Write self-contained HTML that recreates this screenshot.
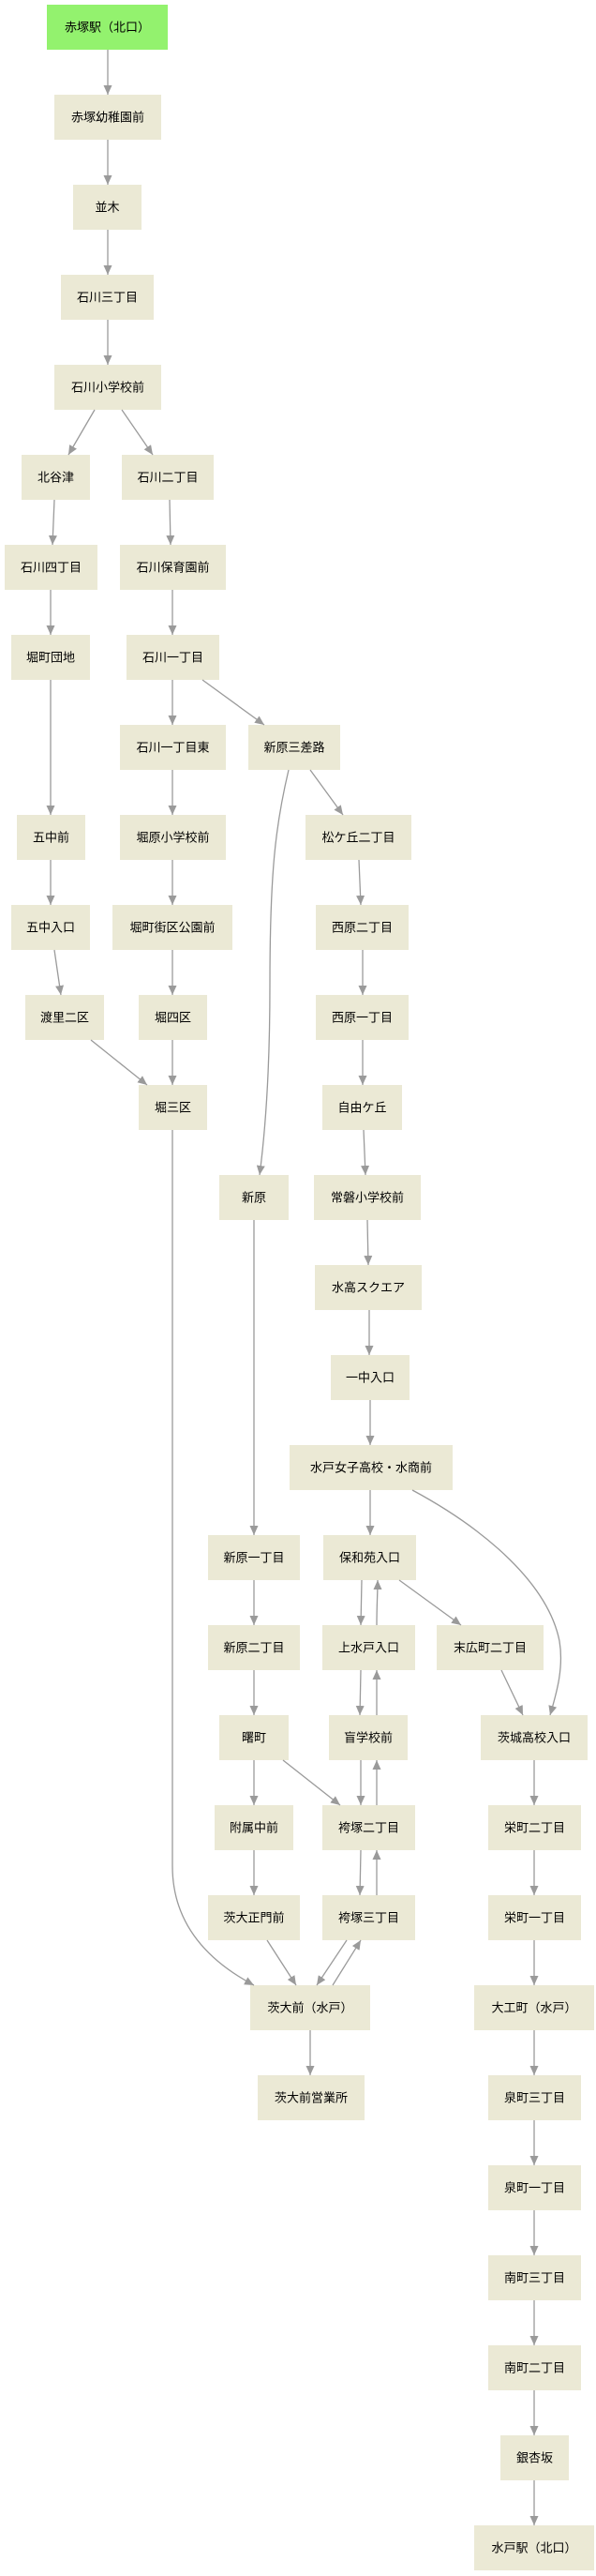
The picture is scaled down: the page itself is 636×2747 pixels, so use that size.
<!DOCTYPE html>
<html><head><meta charset="utf-8"><style>
html,body{margin:0;padding:0;background:#fff;}
svg{display:block;}
text{font-family:"Liberation Sans","Noto Sans CJK JP",sans-serif;font-size:13px;fill:#000;text-anchor:middle;dominant-baseline:central;}
.n{fill:#ebe9d5;}
.e{fill:none;stroke:#9a9a9a;stroke-width:1.3;marker-end:url(#a);}
</style></head><body>
<svg width="636" height="2747" viewBox="0 0 636 2747" xmlns="http://www.w3.org/2000/svg">
<defs><marker id="a" markerUnits="userSpaceOnUse" markerWidth="10" markerHeight="9" refX="10" refY="4.5" orient="auto"><path d="M0,0 L10,4.5 L0,9 z" fill="#9a9a9a"/></marker></defs>
<g>
<rect x="50" y="5" width="129" height="48" fill="#93f26e"/><text x="114.5" y="29">赤塚駅（北口）</text>
<rect class="n" x="58" y="101" width="114" height="48"/><text x="115" y="125">赤塚幼稚園前</text>
<rect class="n" x="78" y="197" width="73" height="48"/><text x="114.5" y="221">並木</text>
<rect class="n" x="65" y="293" width="99" height="48"/><text x="114.5" y="317">石川三丁目</text>
<rect class="n" x="58" y="389" width="114" height="48"/><text x="115" y="413">石川小学校前</text>
<rect class="n" x="23" y="485" width="73" height="48"/><text x="59.5" y="509">北谷津</text>
<rect class="n" x="130" y="485" width="98" height="48"/><text x="179" y="509">石川二丁目</text>
<rect class="n" x="5" y="581" width="99" height="48"/><text x="54.5" y="605">石川四丁目</text>
<rect class="n" x="128" y="581" width="113" height="48"/><text x="184.5" y="605">石川保育園前</text>
<rect class="n" x="12" y="677" width="84" height="48"/><text x="54" y="701">堀町団地</text>
<rect class="n" x="135" y="677" width="99" height="48"/><text x="184.5" y="701">石川一丁目</text>
<rect class="n" x="128" y="773" width="113" height="48"/><text x="184.5" y="797">石川一丁目東</text>
<rect class="n" x="265" y="773" width="98" height="48"/><text x="314" y="797">新原三差路</text>
<rect class="n" x="18" y="869" width="73" height="48"/><text x="54.5" y="893">五中前</text>
<rect class="n" x="128" y="869" width="113" height="48"/><text x="184.5" y="893">堀原小学校前</text>
<rect class="n" x="326" y="869" width="113" height="48"/><text x="382.5" y="893">松ケ丘二丁目</text>
<rect class="n" x="12" y="965" width="84" height="48"/><text x="54" y="989">五中入口</text>
<rect class="n" x="120" y="965" width="128" height="48"/><text x="184" y="989">堀町街区公園前</text>
<rect class="n" x="337" y="965" width="99" height="48"/><text x="386.5" y="989">西原二丁目</text>
<rect class="n" x="27" y="1061" width="84" height="48"/><text x="69" y="1085">渡里二区</text>
<rect class="n" x="148" y="1061" width="73" height="48"/><text x="184.5" y="1085">堀四区</text>
<rect class="n" x="337" y="1061" width="99" height="48"/><text x="386.5" y="1085">西原一丁目</text>
<rect class="n" x="148" y="1157" width="73" height="48"/><text x="184.5" y="1181">堀三区</text>
<rect class="n" x="344" y="1157" width="85" height="48"/><text x="386.5" y="1181">自由ケ丘</text>
<rect class="n" x="234" y="1253" width="74" height="48"/><text x="271" y="1277">新原</text>
<rect class="n" x="335" y="1253" width="114" height="48"/><text x="392" y="1277">常磐小学校前</text>
<rect class="n" x="336" y="1349" width="114" height="48"/><text x="393" y="1373">水高スクエア</text>
<rect class="n" x="353" y="1445" width="84" height="48"/><text x="395" y="1469">一中入口</text>
<rect class="n" x="309" y="1541" width="174" height="48"/><text x="396" y="1565">水戸女子高校・水商前</text>
<rect class="n" x="222" y="1637" width="98" height="48"/><text x="271" y="1661">新原一丁目</text>
<rect class="n" x="345" y="1637" width="99" height="48"/><text x="394.5" y="1661">保和苑入口</text>
<rect class="n" x="222" y="1733" width="98" height="48"/><text x="271" y="1757">新原二丁目</text>
<rect class="n" x="344" y="1733" width="99" height="48"/><text x="393.5" y="1757">上水戸入口</text>
<rect class="n" x="466" y="1733" width="114" height="48"/><text x="523" y="1757">末広町二丁目</text>
<rect class="n" x="234" y="1829" width="74" height="48"/><text x="271" y="1853">曙町</text>
<rect class="n" x="351" y="1829" width="84" height="48"/><text x="393" y="1853">盲学校前</text>
<rect class="n" x="513" y="1829" width="114" height="48"/><text x="570" y="1853">茨城高校入口</text>
<rect class="n" x="229" y="1925" width="84" height="48"/><text x="271" y="1949">附属中前</text>
<rect class="n" x="344" y="1925" width="99" height="48"/><text x="393.5" y="1949">袴塚二丁目</text>
<rect class="n" x="521" y="1925" width="99" height="48"/><text x="570.5" y="1949">栄町二丁目</text>
<rect class="n" x="222" y="2021" width="98" height="48"/><text x="271" y="2045">茨大正門前</text>
<rect class="n" x="344" y="2021" width="99" height="48"/><text x="393.5" y="2045">袴塚三丁目</text>
<rect class="n" x="521" y="2021" width="99" height="48"/><text x="570.5" y="2045">栄町一丁目</text>
<rect class="n" x="267" y="2117" width="128" height="48"/><text x="331" y="2141">茨大前（水戸）</text>
<rect class="n" x="506" y="2117" width="128" height="48"/><text x="570" y="2141">大工町（水戸）</text>
<rect class="n" x="275" y="2213" width="114" height="48"/><text x="332" y="2237">茨大前営業所</text>
<rect class="n" x="521" y="2213" width="99" height="48"/><text x="570.5" y="2237">泉町三丁目</text>
<rect class="n" x="521" y="2309" width="99" height="48"/><text x="570.5" y="2333">泉町一丁目</text>
<rect class="n" x="521" y="2405" width="99" height="48"/><text x="570.5" y="2429">南町三丁目</text>
<rect class="n" x="521" y="2501" width="99" height="48"/><text x="570.5" y="2525">南町二丁目</text>
<rect class="n" x="534" y="2597" width="73" height="48"/><text x="570.5" y="2621">銀杏坂</text>
<rect class="n" x="506" y="2693" width="128" height="48"/><text x="570" y="2717">水戸駅（北口）</text>
</g>
<g>
<path class="e" d="M115,53 L115,101"/>
<path class="e" d="M115,149 L115,197"/>
<path class="e" d="M115,245 L115,293"/>
<path class="e" d="M115,341 L115,389"/>
<path class="e" d="M101,437 L73,485"/>
<path class="e" d="M130,437 L163,485"/>
<path class="e" d="M58,533 L56,581"/>
<path class="e" d="M181,533 L182,581"/>
<path class="e" d="M54,629 L54,677"/>
<path class="e" d="M184,629 L184,677"/>
<path class="e" d="M184,725 L184,773"/>
<path class="e" d="M216,725 L282,773"/>
<path class="e" d="M54,725 L54,869"/>
<path class="e" d="M184,821 L184,869"/>
<path class="e" d="M331,821 L366,869"/>
<path class="e" d="M308,821 C294,880 288,930 288,1050 C288,1150 282,1215 277,1253"/>
<path class="e" d="M54,917 L54,965"/>
<path class="e" d="M184,917 L184,965"/>
<path class="e" d="M383,917 L385,965"/>
<path class="e" d="M58,1013 L65,1061"/>
<path class="e" d="M184,1013 L184,1061"/>
<path class="e" d="M387,1013 L387,1061"/>
<path class="e" d="M97,1109 L157,1157"/>
<path class="e" d="M184,1109 L184,1157"/>
<path class="e" d="M387,1109 L387,1157"/>
<path class="e" d="M388,1205 L390,1253"/>
<path class="e" d="M392,1301 L393,1349"/>
<path class="e" d="M394,1397 L394,1445"/>
<path class="e" d="M395,1493 L395,1541"/>
<path class="e" d="M271,1301 L271,1637"/>
<path class="e" d="M395,1589 L395,1637"/>
<path class="e" d="M440,1589 C520,1632 585,1690 597,1750 C602,1780 593,1808 587,1829"/>
<path class="e" d="M271,1685 L271,1733"/>
<path class="e" d="M386,1685 L385,1733"/>
<path class="e" d="M402,1733 C402,1712 403,1700 403,1685"/>
<path class="e" d="M426,1685 L492,1733"/>
<path class="e" d="M271,1781 L271,1829"/>
<path class="e" d="M385,1781 L384,1829"/>
<path class="e" d="M402,1829 C402,1808 402,1796 402,1781"/>
<path class="e" d="M535,1781 L558,1829"/>
<path class="e" d="M271,1877 L271,1925"/>
<path class="e" d="M302,1877 L363,1925"/>
<path class="e" d="M385,1877 L385,1925"/>
<path class="e" d="M402,1925 L402,1877"/>
<path class="e" d="M570,1877 L570,1925"/>
<path class="e" d="M271,1973 L271,2021"/>
<path class="e" d="M385,1973 L384,2021"/>
<path class="e" d="M402,2021 L402,1973"/>
<path class="e" d="M570,1973 L570,2021"/>
<path class="e" d="M285,2069 L316,2117"/>
<path class="e" d="M370,2069 L338,2117"/>
<path class="e" d="M355,2117 L385,2069"/>
<path class="e" d="M570,2069 L570,2117"/>
<path class="e" d="M184,1205 L184,1990 C184,2050 220,2090 271,2117"/>
<path class="e" d="M331,2165 L331,2213"/>
<path class="e" d="M570,2165 L570,2213"/>
<path class="e" d="M570,2261 L570,2309"/>
<path class="e" d="M570,2357 L570,2405"/>
<path class="e" d="M570,2453 L570,2501"/>
<path class="e" d="M570,2549 L570,2597"/>
<path class="e" d="M570,2645 L570,2693"/>
</g>
</svg>
</body></html>
